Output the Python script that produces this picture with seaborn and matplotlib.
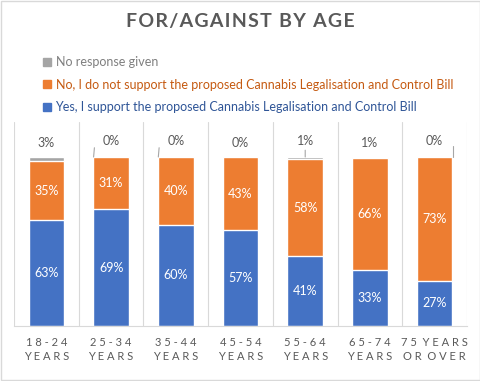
import matplotlib
matplotlib.use('Agg')
import matplotlib.pyplot as plt
from matplotlib.patches import Patch
import seaborn as sns
import pandas as pd

# data (shares in %)
ages = ['18-24 YEARS', '25-34 YEARS', '35-44 YEARS', '45-54 YEARS',
        '55-64 YEARS', '65-74 YEARS', '75 YEARS OR OVER']
tick_labels = ['1 8 - 2 4\nY E A R S', '2 5 - 3 4\nY E A R S', '3 5 - 4 4\nY E A R S',
               '4 5 - 5 4\nY E A R S', '5 5 - 6 4\nY E A R S', '6 5 - 7 4\nY E A R S',
               '7 5  Y E A R S\nO R  O V E R']
yes_pct = [62.6, 69.2, 59.8, 56.8, 41.2, 33.4, 26.9]
no_pct = [34.8, 30.8, 40.0, 43.0, 57.8, 65.8, 72.9]
none_pct = [2.6, 0.0, 0.2, 0.2, 1.0, 0.8, 0.2]

BLUE = '#4472c4'
ORANGE = '#ed7d31'
GREY = '#a5a5a5'
TEXT = '#595959'

df = pd.DataFrame({'age': ages, 'yes': yes_pct, 'no': no_pct, 'none': none_pct})
df['yes_no'] = df['yes'] + df['no']
df['total'] = df['yes_no'] + df['none']

sns.set_style('white')
plt.rcParams['font.family'] = ['Lato', 'DejaVu Sans']

fig = plt.figure(figsize=(4.81, 3.81), dpi=100)
ax = fig.add_axes([14 / 481, 55 / 381, 453 / 481, 204 / 381])

# stacked columns drawn as overlapping cumulative bars
sns.barplot(data=df, x='age', y='total', color=GREY, width=0.55, saturation=1, ax=ax)
sns.barplot(data=df, x='age', y='yes_no', color=ORANGE, width=0.55, saturation=1, ax=ax)
sns.barplot(data=df, x='age', y='yes', color=BLUE, width=0.55, saturation=1, ax=ax)

ax.set_xlim(-0.5, 6.5)
ax.set_ylim(0, 120.7)
ax.set_xlabel('')
ax.set_ylabel('')
ax.set_yticks([])
ax.set_xticks(range(len(ages)))
ax.set_xticklabels(tick_labels, fontsize=8, color=TEXT, linespacing=1.35)
ax.tick_params(axis='x', length=0, pad=8)
for s in ['top', 'left', 'right']:
    ax.spines[s].set_visible(False)
ax.spines['bottom'].set_color('#d9d9d9')
for b in range(len(ages) + 1):
    ax.axvline(b - 0.5, color='#d9d9d9', lw=0.8, zorder=0)

# segment labels
for i, row in df.iterrows():
    ax.text(i, row['yes'] / 2, f"{row['yes']:.0f}%", ha='center', va='center',
            color='white', fontsize=9)
    ax.text(i, row['yes'] + row['no'] / 2, f"{row['no']:.0f}%", ha='center',
            va='center', color='white', fontsize=9)

# no-response labels above the bars, some with leader lines
leaders = {1: (-0.27, 'angle,angleA=0,angleB=85,rad=0'),
           2: (-0.27, 'angle,angleA=0,angleB=85,rad=0'),
           4: (0.0, 'arc3'),
           6: (0.28, 'angle,angleA=0,angleB=90,rad=0')}
for i, row in df.iterrows():
    lab = f"{row['none']:.0f}%"
    if i in leaders:
        dx, cs = leaders[i]
        ax.annotate(lab, xy=(i + dx, row['total']), xytext=(i, 109.5),
                    ha='center', va='center', fontsize=9, color=TEXT,
                    arrowprops=dict(arrowstyle='-', color='#a6a6a6', lw=0.8,
                                    connectionstyle=cs, shrinkA=6, shrinkB=0))
    else:
        ax.text(i, 108.5, lab, ha='center', va='center', fontsize=9, color=TEXT)

# legend, text coloured like the series
handles = [Patch(color=GREY), Patch(color=ORANGE), Patch(color=BLUE)]
labels = ['No response given',
          'No, I do not support the proposed Cannabis Legalisation and Control Bill',
          'Yes, I support the proposed Cannabis Legalisation and Control Bill']
leg = fig.legend(handles, labels, loc='upper left', bbox_to_anchor=(38 / 481, 1 - 51 / 381),
                 frameon=False, fontsize=9, handlelength=0.6, handleheight=0.6,
                 handletextpad=0.4, labelspacing=0.85, borderaxespad=0)
for t, c in zip(leg.get_texts(), ['#7f7f7f', '#c55a11', '#2f5597']):
    t.set_color(c)

title = '\u200a'.join('FOR/AGAINST BY AGE')
fig.text(0.5, 1 - 22 / 381, title, ha='center', va='center',
         fontsize=14, fontweight='bold', color=TEXT)

# light chart border
fig.patches.append(plt.Rectangle((0.002, 0.002), 0.996, 0.995, transform=fig.transFigure,
                                 fill=False, edgecolor='#d9d9d9', lw=1))

fig.savefig('out.png', dpi=100)
